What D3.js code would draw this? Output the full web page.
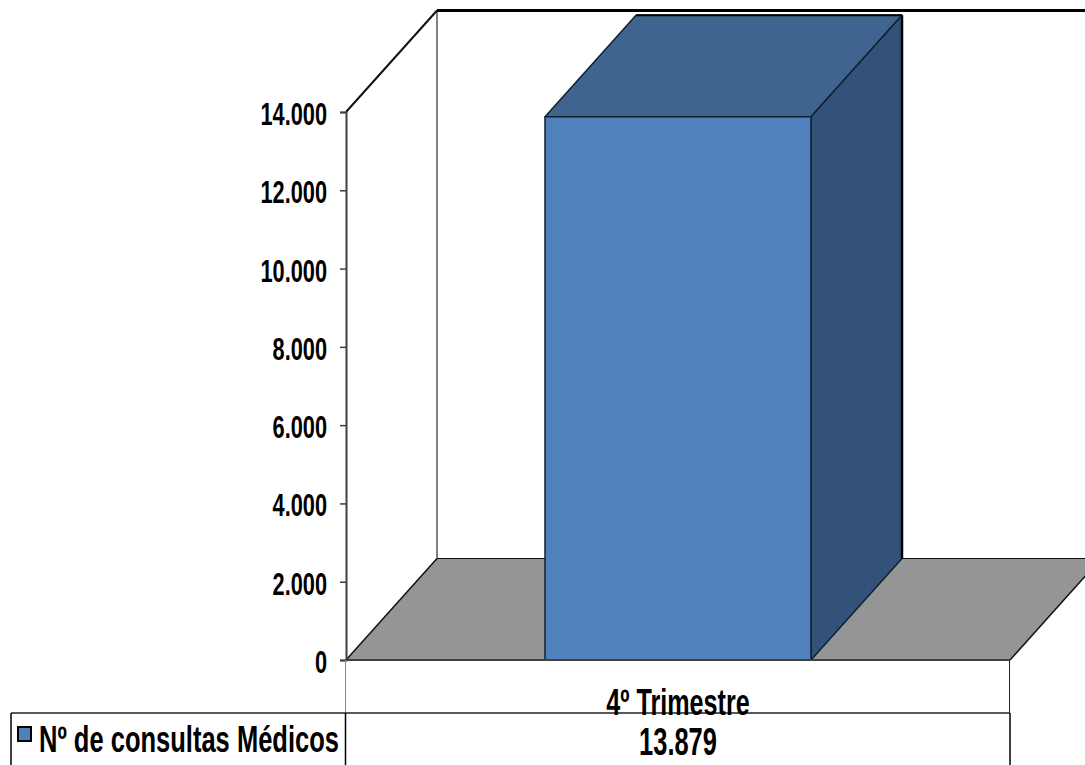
<!DOCTYPE html>
<html><head><meta charset="utf-8">
<script src="https://cdn.jsdelivr.net/npm/d3@7"></script>
<style>html,body{margin:0;padding:0;background:#fff;overflow:hidden}svg{display:block}
text{font-family:"Liberation Sans",Arial,sans-serif;font-weight:700;fill:#000}</style></head>
<body><svg id="c" width="1085" height="765"></svg>
<script>
const categories = ["4º Trimestre"];
const seriesName = "Nº de consultas Médicos";
const seriesValues = [13879];
const valueTicks = [0,2000,4000,6000,8000,10000,12000,14000];
const valueLabels = ["0","2.000","4.000","6.000","8.000","10.000","12.000","14.000"];
const dataLabels = ["13.879"];

const svg = d3.select("#c");
const y = d3.scaleLinear().domain([0,14000]).range([660,112]);
const x = d3.scaleBand().domain(categories).range([346,1010]).paddingInner(0).paddingOuter(0);
const dx = 91, dy = -101.5;
const barLeft = x(categories[0]) + 199, barRight = x(categories[0]) + 465;
const poly = p => p.map(q=>q.join(",")).join(" ");
const y0=y(0), yT=y(14000), xL=x.range()[0], xR=x.range()[1];
function label(sel,xp,yp,t,anchor,fs,sx){
  return sel.append("text").attr("transform",`translate(${xp},${yp}) scale(${sx},1)`)
    .attr("text-anchor",anchor).attr("font-size",fs).text(t);
}
// floor
svg.append("polygon").attr("points",poly([[xL,y0],[xR,y0],[xR+dx,y0+dy],[xL+dx,y0+dy]])).attr("fill","#959595");
// walls
const wall = svg.append("g").attr("fill","none");
wall.append("line").attr("x1",xL+dx).attr("x2",xL+dx).attr("y1",yT+dy).attr("y2",y0+dy).attr("stroke","#808080").attr("stroke-width",2);
wall.append("line").attr("x1",xL+dx).attr("x2",1085).attr("y1",yT+dy).attr("y2",yT+dy).attr("stroke","#000").attr("stroke-width",3);
wall.append("line").attr("x1",xL).attr("x2",xL+dx).attr("y1",yT).attr("y2",yT+dy).attr("stroke","#111").attr("stroke-width",2);
wall.append("line").attr("x1",xL).attr("x2",xL+dx).attr("y1",y0).attr("y2",y0+dy).attr("stroke","#111").attr("stroke-width",1.5);
wall.append("line").attr("x1",xL+dx).attr("x2",1085).attr("y1",y0+dy).attr("y2",y0+dy).attr("stroke","#111").attr("stroke-width",1);
wall.append("line").attr("x1",xR).attr("x2",xR+dx).attr("y1",y0).attr("y2",y0+dy).attr("stroke","#111").attr("stroke-width",1.5);
// bar
seriesValues.forEach(v=>{
  const t=y(v);
  const g=svg.append("g").attr("stroke","#10202f").attr("stroke-linejoin","round");
  g.append("polygon").attr("points",poly([[barLeft,t],[barRight,t],[barRight+dx,t+dy],[barLeft+dx,t+dy]])).attr("fill","#3f6490").attr("stroke-width",1.5);
  g.append("polygon").attr("points",poly([[barRight,t],[barRight+dx,t+dy],[barRight+dx,y0+dy],[barRight,y0]])).attr("fill","#325279").attr("stroke-width",1.5);
  g.append("polygon").attr("points",poly([[barLeft,t],[barRight,t],[barRight,y0],[barLeft,y0]])).attr("fill","#4f81bd").attr("stroke-width",1.5);
  svg.append("line").attr("x1",barRight+dx).attr("x2",barRight+dx).attr("y1",t+dy).attr("y2",y0+dy).attr("stroke","#000").attr("stroke-width",2.5);
  svg.append("line").attr("x1",barLeft+dx).attr("x2",barRight+dx).attr("y1",t+dy).attr("y2",t+dy).attr("stroke","#000").attr("stroke-width",2);
});
// front floor edge
svg.append("line").attr("x1",xL).attr("x2",xR).attr("y1",y0).attr("y2",y0).attr("stroke","#404040").attr("stroke-width",2);
// y axis
const axis = d3.axisLeft(y).tickValues(valueTicks).tickSize(6).tickFormat("");
const ag = svg.append("g").attr("transform",`translate(${xL},0)`).call(axis);
ag.selectAll("path,line").attr("stroke","#404040").attr("stroke-width",1.5);
ag.select("path").attr("stroke-width",2);
valueTicks.forEach((v,i)=>label(svg,327,y(v)+13,valueLabels[i],"end",32,0.68));
// table
const tg=svg.append("g");
const tTop=713;
tg.append("line").attr("x1",345.5).attr("x2",345.5).attr("y1",y0).attr("y2",tTop).attr("stroke","#888").attr("stroke-width",1);
tg.append("line").attr("x1",1009.5).attr("x2",1009.5).attr("y1",y0).attr("y2",tTop).attr("stroke","#222").attr("stroke-width",1);
tg.append("line").attr("x1",11).attr("x2",1010).attr("y1",tTop).attr("y2",tTop).attr("stroke","#222").attr("stroke-width",1.5);
[11,345.5,1010].forEach(px=>tg.append("line").attr("x1",px).attr("x2",px).attr("y1",tTop).attr("y2",765).attr("stroke","#000").attr("stroke-width",1.5));
const cx=678;
label(svg,cx,715,categories[0],"middle",37,0.68);
label(svg,cx,755,dataLabels[0],"middle",38,0.67);
svg.append("rect").attr("x",18).attr("y",727).attr("width",13).attr("height",14).attr("fill","#4f81bd").attr("stroke","#000").attr("stroke-width",2);
label(svg,39,751.5,seriesName,"start",37,0.69);
</script></body></html>
